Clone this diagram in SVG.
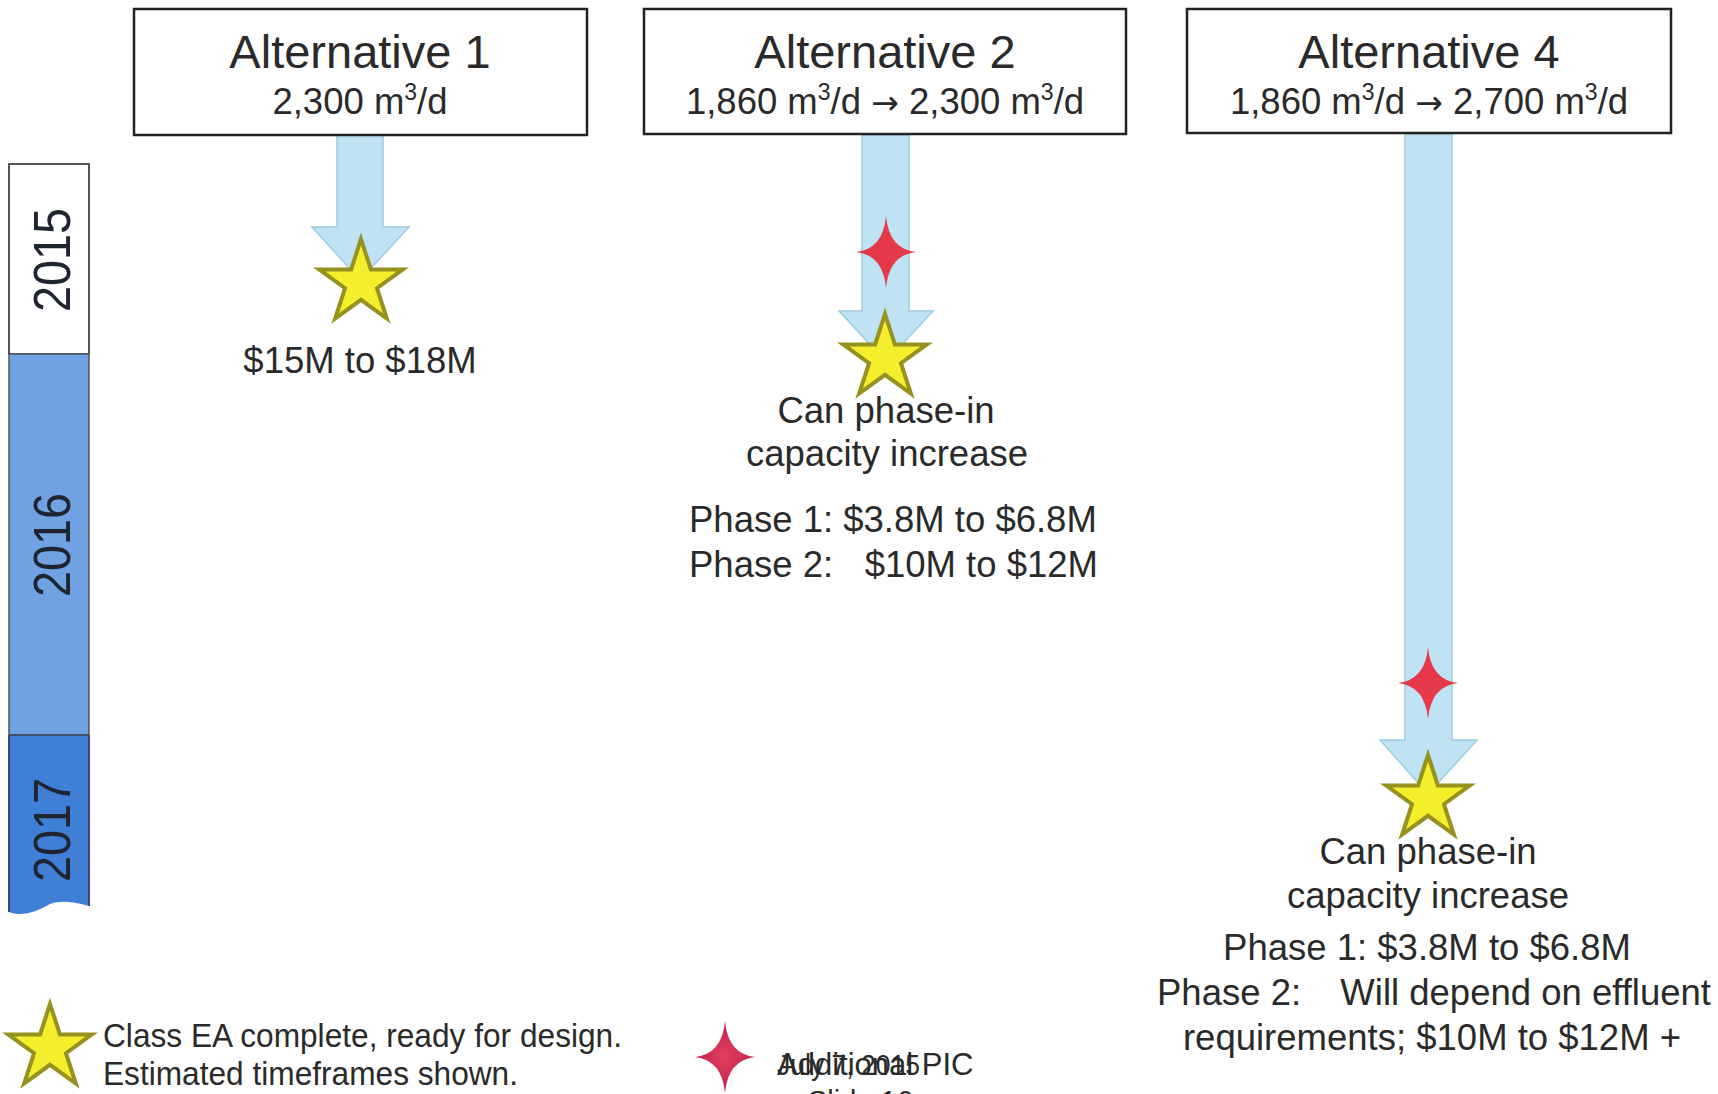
<svg xmlns="http://www.w3.org/2000/svg" xmlns:xlink="http://www.w3.org/1999/xlink" width="1718" height="1094" viewBox="0 0 1718 1094">
<style>
text{font-family:"Liberation Sans",Arial,Helvetica,sans-serif;fill:#2a2a2a}
.box{fill:#ffffff;stroke:#222;stroke-width:2.5}
.title{font-size:47px;text-anchor:middle}
.sub{font-size:36.5px;text-anchor:middle}
.arr{font-family:"DejaVu Sans",sans-serif;font-size:33px}
.body{font-size:36.5px}
.mid{text-anchor:middle}
.end{text-anchor:end}
.arrow{fill:#bfe3f3;stroke:#9ccbe0;stroke-width:1.5}
.star{fill:#f4ee2c;stroke:#96921f;stroke-width:4;stroke-linejoin:miter}
.spark{fill:#e63a4b}
.year{font-size:52px;fill:#1e2430;text-anchor:middle}
.legend{font-size:33px}
</style>
<defs>
<path id="star5" d="M0,-44 L9.88,-13.6 L41.84,-13.6 L15.98,5.19 L25.86,35.6 L0,16.8 L-25.86,35.6 L-15.98,5.19 L-41.84,-13.6 L-9.88,-13.6 Z"/>
<path id="spark4" d="M0,-36 Q3,-3 30,0 Q3,3 0,36 Q-3,3 -30,0 Q-3,-3 0,-36 Z"/>
<radialGradient id="sparkGrad" cx="0.5" cy="0.5" r="0.5">
<stop offset="0" stop-color="#e0405e"/>
<stop offset="1" stop-color="#c4204a"/>
</radialGradient>
</defs>
<rect x="0" y="0" width="1718" height="1094" fill="#ffffff"/>

<g id="timeline">
<rect x="9" y="164" width="80" height="190" fill="#ffffff" stroke="#555" stroke-width="2"/>
<rect x="9" y="354" width="80" height="381" fill="#70a1e2" stroke="#555" stroke-width="1.5"/>
<path d="M9,735 H89 V906 C78,903 62,899 50,904 C36,912 22,917 9,912 Z" fill="#3f7fd6"/>
<path d="M9,735 V912 M89,735 V906" stroke="#3a4a60" stroke-width="2" fill="none"/>
<line x1="9" y1="735" x2="89" y2="735" stroke="#445" stroke-width="1.5"/>
<text class="year" transform="translate(70,260) rotate(-90)" textLength="104" lengthAdjust="spacingAndGlyphs">2015</text>
<text class="year" transform="translate(70,545) rotate(-90)" textLength="104" lengthAdjust="spacingAndGlyphs">2016</text>
<text class="year" transform="translate(70,830) rotate(-90)" textLength="104" lengthAdjust="spacingAndGlyphs">2017</text>
</g>

<g id="connectors">
<path class="arrow" d="M337,135 H383 V227 H409 L360,280 L312,227 H337 Z"/>
<path class="arrow" d="M862,135 H909 V311 H933 L886,362 L839,311 H862 Z" stroke="#8fb2c4"/>
<path class="arrow" d="M1405,134 H1452 V740 H1477 L1428,794 L1380,740 H1405 Z"/>
</g>

<g id="alt1">
<rect class="box" x="134" y="9" width="453" height="126"/>
<text class="title" x="360" y="68">Alternative 1</text>
<text class="sub" x="360" y="114">2,300 m<tspan font-size="23" dy="-14">3</tspan><tspan dy="14">/d</tspan></text>
<use xlink:href="#star5" href="#star5" class="star" x="361" y="283"/>
<text class="body mid" x="360" y="373">$15M to $18M</text>
</g>

<g id="alt2">
<rect class="box" x="644" y="9" width="482" height="125"/>
<text class="title" x="885" y="68">Alternative 2</text>
<text class="sub" x="885" y="114">1,860 m<tspan font-size="23" dy="-14">3</tspan><tspan dy="14">/d </tspan><tspan class="arr">→</tspan><tspan> 2,300 m</tspan><tspan font-size="23" dy="-14">3</tspan><tspan dy="14">/d</tspan></text>
<use xlink:href="#spark4" href="#spark4" class="spark" x="886" y="252"/>
<use xlink:href="#star5" href="#star5" class="star" x="885" y="358" stroke="#7f7c1c" stroke-width="5"/>
<text class="body mid" x="886" y="423">Can phase-in</text>
<text class="body mid" x="887" y="466">capacity increase</text>
<text class="body" x="689" y="532">Phase 1: $3.8M to $6.8M</text>
<text class="body" x="689" y="577">Phase 2:</text>
<text class="body end" x="1098" y="577">$10M to $12M</text>
</g>

<g id="alt4">
<rect class="box" x="1187" y="9" width="484" height="124"/>
<text class="title" x="1429" y="68">Alternative 4</text>
<text class="sub" x="1429" y="114">1,860 m<tspan font-size="23" dy="-14">3</tspan><tspan dy="14">/d </tspan><tspan class="arr">→</tspan><tspan> 2,700 m</tspan><tspan font-size="23" dy="-14">3</tspan><tspan dy="14">/d</tspan></text>
<use xlink:href="#spark4" href="#spark4" class="spark" x="1428" y="683"/>
<use xlink:href="#star5" href="#star5" class="star" x="1428" y="799"/>
<text class="body mid" x="1428" y="864">Can phase-in</text>
<text class="body mid" x="1428" y="908">capacity increase</text>
<text class="body mid" x="1427" y="960">Phase 1: $3.8M to $6.8M</text>
<text class="body" x="1157" y="1005">Phase 2:</text>
<text class="body end" x="1711" y="1005">Will depend on effluent</text>
<text class="body mid" x="1432" y="1050">requirements; $10M to $12M +</text>
</g>

<g id="legend">
<use xlink:href="#star5" href="#star5" class="star" x="50" y="1048"/>
<text class="legend" x="103" y="1047" textLength="519" lengthAdjust="spacingAndGlyphs">Class EA complete, ready for design.</text>
<text class="legend" x="103" y="1085" textLength="415" lengthAdjust="spacingAndGlyphs">Estimated timeframes shown.</text>
<use xlink:href="#spark4" href="#spark4" fill="url(#sparkGrad)" x="725" y="1057"/>
<text x="777" y="1075" font-size="31">Additional PIC</text>
<text x="777" y="1075" font-size="29" textLength="143" lengthAdjust="spacingAndGlyphs">July 7, 2015</text>
<text x="808" y="1111" font-size="29">Slide 16</text>
</g>
</svg>
